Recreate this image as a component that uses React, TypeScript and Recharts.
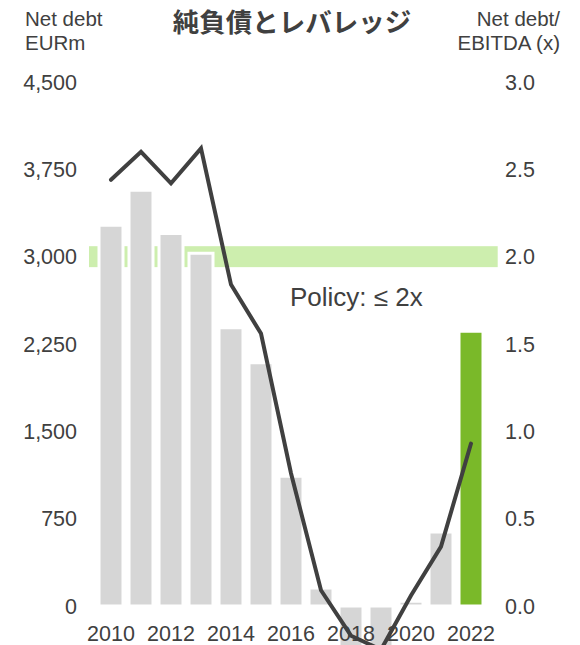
import { Bar, Cell, ComposedChart, Line, ReferenceArea, XAxis, YAxis } from 'recharts'

const years = ['2010', '2011', '2012', '2013', '2014', '2015', '2016', '2017', '2018', '2019', '2020', '2021', '2022']
const netDebt = [3270, 3570, 3200, 3030, 2390, 2090, 1115, 155, -380, -380, 40, 635, 2360]
const leverage = [2.44, 2.6, 2.42, 2.62, 1.84, 1.56, 0.76, 0.09, -0.17, -0.25, 0.06, 0.34, 0.93]
const leftTicks = [0, 750, 1500, 2250, 3000, 3750, 4500]
const rightTicks = [0, 0.5, 1, 1.5, 2, 2.5, 3]
const policyBand = [1.94, 2.06]

const TEXT = '#404040'
const FONT = '"Liberation Sans", Arial, sans-serif'
const TICK_SIZE = 21.5

const data = years.map((y, i) => ({ year: y, debt: netDebt[i], ratio: leverage[i] }))

function YearTick(props: any) {
  const { x, y, payload } = props
  return (
    <text x={x} y={y - 19.4} textAnchor="middle" fill={TEXT} fontSize={TICK_SIZE} fontFamily={FONT}>
      {payload.value}
    </text>
  )
}

function Band(props: any) {
  const { x, y, width, height } = props
  return <rect x={x - 7} y={y} width={width + 18.7} height={height} fill="#cdeeae" />
}

export default function App() {
  return (
    <div
      style={{
        position: 'fixed',
        top: 0,
        left: 0,
        width: 580,
        height: 645,
        overflow: 'hidden',
        background: '#fff',
        fontFamily: FONT,
        color: TEXT,
      }}
    >
      <div style={{ position: 'absolute', left: 25, top: 7, fontSize: 20.5, lineHeight: '24px' }}>
        Net debt
        <br />
        EURm
      </div>
      <div
        style={{
          position: 'absolute',
          left: 0,
          width: 580,
          top: 1,
          textAlign: 'center',
          fontSize: 26.5,
          fontWeight: 700,
          fontFamily: '"Noto Sans CJK JP", sans-serif',
          paddingLeft: 2,
        }}
      >
        純負債とレバレッジ
      </div>
      <div
        style={{ position: 'absolute', right: 20, top: 7, fontSize: 20.5, lineHeight: '24px', textAlign: 'right' }}
      >
        Net debt/
        <br />
        EBITDA (x)
      </div>
      <ComposedChart width={580} height={688} data={data} margin={{ top: 82, right: 0, bottom: 0, left: 0 }}>
        <XAxis
          dataKey="year"
          height={29.6}
          interval={1}
          axisLine={false}
          tickLine={false}
          tickSize={0}
          tick={<YearTick />}
        />
        <YAxis
          yAxisId="left"
          width={96}
          domain={[-450, 4500]}
          ticks={leftTicks}
          axisLine={false}
          tickLine={false}
          tickSize={0}
          tickMargin={19}
          tick={{ fill: TEXT, fontSize: TICK_SIZE, fontFamily: FONT }}
          tickFormatter={(v: number) => v.toLocaleString('en-US')}
        />
        <YAxis
          yAxisId="right"
          orientation="right"
          width={94}
          domain={[-0.3, 3]}
          ticks={rightTicks}
          axisLine={false}
          tickLine={false}
          tickSize={0}
          tickMargin={19}
          tick={{ fill: TEXT, fontSize: TICK_SIZE, fontFamily: FONT, textAnchor: 'start' }}
          tickFormatter={(v: number) => v.toFixed(1)}
        />
        <ReferenceArea
          yAxisId="right"
          y1={policyBand[0]}
          y2={policyBand[1]}
          ifOverflow="visible"
          shape={<Band />}
          label={(p: any) => (
            <text
              x={p.viewBox.x + 194}
              y={p.viewBox.y + 60}
              fill={TEXT}
              fontSize={26}
              fontFamily={FONT}
            >
              Policy: ≤ 2x
            </text>
          )}
        />
        <Bar yAxisId="left" dataKey="debt" barSize={24} stroke="#ffffff" strokeWidth={3} isAnimationActive={false}>
          {data.map((_, i) => (
            <Cell key={i} fill={i === data.length - 1 ? '#7ab929' : '#d6d6d6'} />
          ))}
        </Bar>
        <Line
          yAxisId="right"
          dataKey="ratio"
          type="linear"
          stroke="#404040"
          strokeWidth={4}
          strokeLinecap="round"
          dot={false}
          activeDot={false}
          isAnimationActive={false}
        />
      </ComposedChart>
    </div>
  )
}
